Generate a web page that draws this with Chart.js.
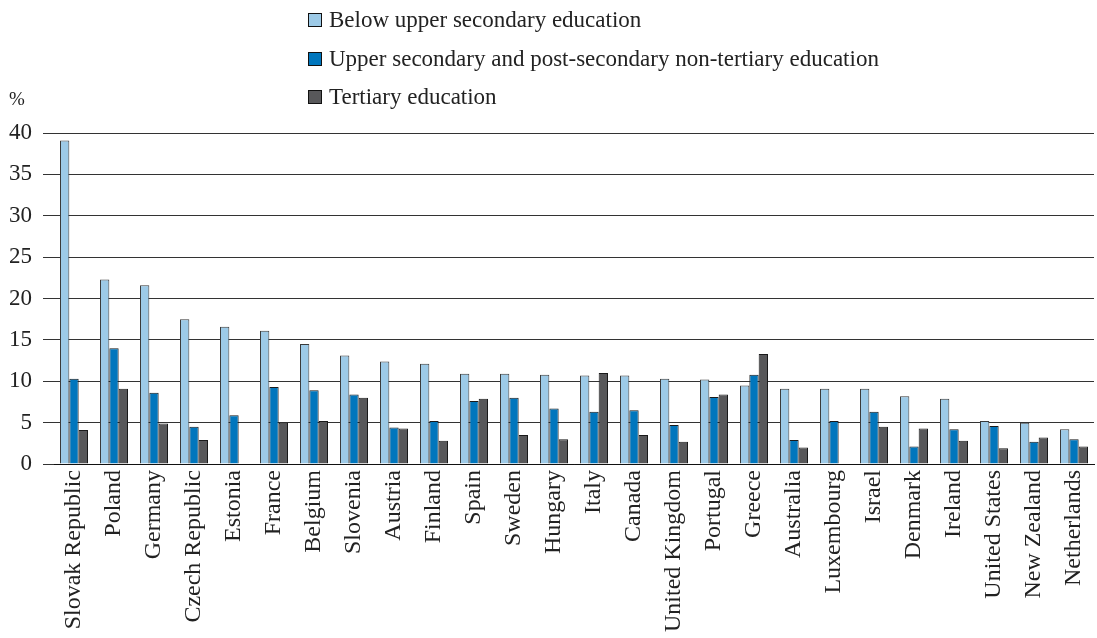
<!DOCTYPE html>
<html>
<head>
<meta charset="utf-8">
<script src="https://cdn.jsdelivr.net/npm/chart.js@4.4.1/dist/chart.umd.min.js"></script>
<style>
  html, body { margin: 0; padding: 0; background: #fff; }
  #wrap { position: relative; width: 1097px; height: 638px; }
  #legend { position: absolute; left: 308px; top: 1px; font-family: "Liberation Serif", serif; font-size: 23px; color: #222; }
  .lg-row { height: 38.5px; display: flex; align-items: center; }
  .lg-box { width: 12px; height: 12px; border: 1px solid #111; margin-right: 7px; }
</style>
</head>
<body>
<div id="wrap">
  <canvas id="c" width="1097" height="638"></canvas>
  <div id="legend"></div>
</div>
<script>
const categories = ["Slovak Republic","Poland","Germany","Czech Republic","Estonia","France","Belgium","Slovenia","Austria","Finland","Spain","Sweden","Hungary","Italy","Canada","United Kingdom","Portugal","Greece","Australia","Luxembourg","Israel","Denmark","Ireland","United States","New Zealand","Netherlands"];
const seriesNames = ["Below upper secondary education","Upper secondary and post-secondary non-tertiary education","Tertiary education"];
const belowUpperSecondary = [39.1,22.3,21.6,17.5,16.6,16.1,14.5,13.1,12.4,12.1,10.9,10.9,10.8,10.7,10.7,10.3,10.2,9.5,9.1,9.1,9.1,8.2,7.9,5.2,5.0,4.2];
const upperSecondary = [10.3,14.0,8.6,4.5,5.9,9.3,8.9,8.4,4.4,5.2,7.6,8.0,6.7,6.3,6.5,4.7,8.1,10.8,2.9,5.2,6.3,2.1,4.2,4.6,2.7,3.0];
const tertiary = [4.1,9.1,4.9,2.9,null,5.0,5.2,8.0,4.3,2.8,7.9,3.5,3.0,11.0,3.5,2.7,8.4,13.3,2.0,null,4.5,4.3,2.8,1.9,3.2,2.1];
const yTicks = [0,5,10,15,20,25,30,35,40];
const colors = ["#9DCAE7","#0076BD","#58585A"];

const FONT = "'Liberation Serif', serif";

const percentPlugin = {
  id: 'percentLabel',
  afterDraw(chart) {
    const ctx = chart.ctx;
    ctx.save();
    ctx.font = "19px " + FONT;
    ctx.fillStyle = "#222";
    ctx.textAlign = "left";
    ctx.textBaseline = "middle";
    ctx.fillText("%", 9, chart.chartArea.top - 33);
    ctx.restore();
  }
};

const chart = new Chart(document.getElementById('c'), {
  type: 'bar',
  data: {
    labels: categories,
    datasets: [
      { label: seriesNames[0], data: belowUpperSecondary, backgroundColor: colors[0], borderColor: "#3a3a3a", borderWidth: 1 },
      { label: seriesNames[1], data: upperSecondary, backgroundColor: colors[1], borderColor: "#1a1a1a", borderWidth: 1 },
      { label: seriesNames[2], data: tertiary, backgroundColor: colors[2], borderColor: "#1a1a1a", borderWidth: 1 }
    ]
  },
  options: {
    responsive: false,
    animation: false,
    devicePixelRatio: 1,
    layout: { padding: { top: 133, right: 3, left: 0, bottom: 0 } },
    plugins: { legend: { display: false }, tooltip: { enabled: false } },
    datasets: { bar: { categoryPercentage: 0.7, barPercentage: 1.0 } },
    scales: {
      x: {
        grid: { display: false, drawTicks: false },
        border: { display: true, color: "#111", width: 1 },
        ticks: {
          autoSkip: false, minRotation: 90, maxRotation: 90, padding: 6,
          color: "#222", font: { family: FONT, size: 24 }
        },
        afterFit(scale) { scale.height = 174; scale.paddingLeft = 0; scale.paddingRight = 0; }
      },
      y: {
        min: 0, max: 40,
        afterBuildTicks(scale) { scale.ticks = yTicks.map(v => ({ value: v })); },
        grid: { color: "#333", lineWidth: 1, drawTicks: true, tickLength: 11, tickColor: "#333" },
        border: { display: false },
        ticks: { padding: 11, color: "#222", font: { family: FONT, size: 23 } },
        afterFit(scale) { scale.width = 54; }
      }
    }
  },
  plugins: [percentPlugin]
});

const legendEl = document.getElementById('legend');
chart.data.datasets.forEach(ds => {
  const row = document.createElement('div');
  row.className = 'lg-row';
  const box = document.createElement('span');
  box.className = 'lg-box';
  box.style.background = ds.backgroundColor;
  const txt = document.createElement('span');
  txt.textContent = ds.label;
  row.appendChild(box); row.appendChild(txt);
  legendEl.appendChild(row);
});
</script>
</body>
</html>
